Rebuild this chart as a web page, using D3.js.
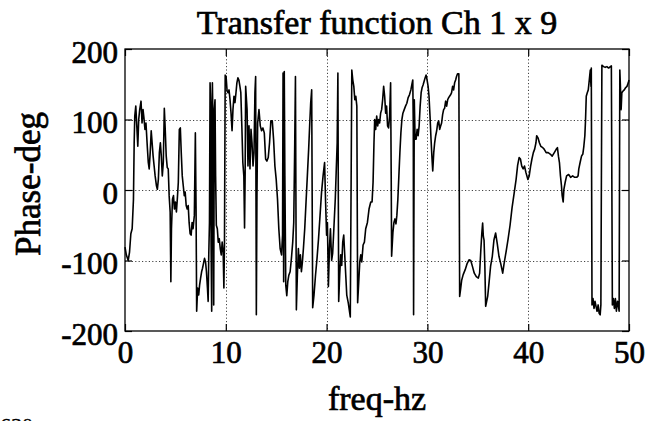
<!DOCTYPE html>
<html>
<head>
<meta charset="utf-8">
<script src="https://cdn.jsdelivr.net/npm/d3@7"></script>
<style>
  html, body { margin: 0; padding: 0; background: #fff; }
  svg text { font-family: "Liberation Serif", "Times New Roman", serif; fill: #000; }
</style>
</head>
<body>
<svg id="chart" width="646" height="421"></svg>
<script>
// Phase of the transfer function, channel 1 x 9 (frequency in Hz, phase in degrees)
const freqHz = [
  0.00, 0.13, 0.32, 0.45, 0.58, 0.71, 0.84, 0.91, 0.97, 1.07, 1.17, 1.27, 1.36, 1.46, 1.59, 1.69,
  1.79, 1.88, 1.98, 2.08, 2.21, 2.31, 2.40, 2.50, 2.60, 2.69, 2.79, 2.89, 2.99, 3.12, 3.21, 3.31,
  3.41, 3.51, 3.60, 3.70, 3.80, 3.90, 3.99, 4.09, 4.19, 4.29, 4.38, 4.48, 4.55, 4.61, 4.71, 4.81,
  4.90, 5.00, 5.10, 5.19, 5.29, 5.39, 5.49, 5.58, 5.68, 5.78, 5.88, 5.97, 6.07, 6.17, 6.27, 6.36,
  6.46, 6.56, 6.66, 6.75, 6.88, 6.98, 7.05, 7.11, 7.21, 7.31, 7.40, 7.50, 7.60, 7.69, 7.79, 7.89,
  7.99, 8.08, 8.18, 8.25, 8.31, 8.38, 8.44, 8.51, 8.54, 8.60, 8.67, 8.73, 8.80, 8.86, 8.93, 8.99,
  9.06, 9.16, 9.25, 9.35, 9.45, 9.55, 9.64, 9.74, 9.81, 9.87, 9.94, 10.03, 10.13, 10.23, 10.32, 10.42,
  10.52, 10.62, 10.71, 10.81, 10.91, 11.01, 11.10, 11.20, 11.30, 11.40, 11.49, 11.59, 11.69, 11.79, 11.86, 11.92,
  11.97, 12.11, 12.20, 12.30, 12.40, 12.50, 12.60, 12.70, 12.80, 12.89, 12.96, 13.03, 13.09, 13.16, 13.29, 13.42,
  13.55, 13.68, 13.82, 13.95, 14.08, 14.21, 14.34, 14.47, 14.61, 14.74, 14.87, 15.00, 15.13, 15.26, 15.39, 15.53,
  15.63, 15.68, 15.74, 15.80, 15.86, 15.95, 16.05, 16.15, 16.25, 16.38, 16.51, 16.64, 16.74, 16.84, 16.91, 17.00,
  17.10, 17.20, 17.30, 17.40, 17.50, 17.60, 17.70, 17.83, 17.96, 18.09, 18.22, 18.33, 18.42, 18.52, 18.62, 18.75,
  18.90, 19.05, 19.20, 19.35, 19.50, 19.65, 19.80, 19.90, 20.00, 20.08, 20.18, 20.28, 20.38, 20.50, 20.60, 20.72,
  20.86, 20.95, 21.05, 21.12, 21.20, 21.30, 21.40, 21.50, 21.60, 21.70, 21.80, 21.90, 22.00, 22.15, 22.35, 22.50,
  22.60, 22.70, 22.80, 22.90, 23.00, 23.08, 23.19, 23.29, 23.39, 23.49, 23.62, 23.75, 23.88, 24.05, 24.21, 24.38,
  24.51, 24.61, 24.70, 24.77, 24.87, 24.97, 25.07, 25.16, 25.26, 25.36, 25.46, 25.56, 25.66, 25.76, 25.86, 25.95,
  26.05, 26.15, 26.25, 26.35, 26.41, 26.45, 26.58, 26.68, 26.78, 26.88, 26.97, 27.07, 27.17, 27.27, 27.37, 27.47,
  27.57, 27.70, 27.83, 27.96, 28.09, 28.22, 28.36, 28.49, 28.55, 28.60, 28.63, 28.70, 28.78, 28.88, 28.98, 29.08,
  29.18, 29.28, 29.38, 29.47, 29.57, 29.67, 29.77, 29.87, 29.97, 30.07, 30.16, 30.26, 30.36, 30.46, 30.53, 30.63,
  30.72, 30.82, 30.92, 31.02, 31.12, 31.22, 31.32, 31.41, 31.51, 31.61, 31.71, 31.81, 31.91, 32.01, 32.11, 32.20,
  32.30, 32.40, 32.50, 32.60, 32.70, 32.80, 32.89, 32.99, 33.12, 33.20, 33.30, 33.40, 33.55, 33.75, 33.95, 34.13,
  34.30, 34.46, 34.65, 34.85, 35.05, 35.18, 35.30, 35.40, 35.48, 35.55, 35.62, 35.70, 35.78, 35.85, 35.98, 36.11,
  36.27, 36.44, 36.60, 36.77, 36.93, 37.10, 37.27, 37.47, 37.60, 37.80, 38.00, 38.20, 38.40, 38.60, 38.80, 38.95,
  39.10, 39.23, 39.36, 39.50, 39.63, 39.77, 39.97, 40.10, 40.24, 40.37, 40.51, 40.64, 40.77, 40.84, 40.97, 41.11,
  41.25, 41.45, 41.58, 41.78, 41.98, 42.18, 42.38, 42.59, 42.79, 42.90, 43.00, 43.10, 43.20, 43.30, 43.37, 43.47,
  43.54, 43.67, 43.81, 44.01, 44.21, 44.41, 44.61, 44.81, 44.95, 45.02, 45.15, 45.29, 45.42, 45.52, 45.62, 45.69,
  45.76, 45.86, 45.96, 46.06, 46.16, 46.23, 46.26, 46.33, 46.43, 46.53, 46.63, 46.73, 46.83, 46.94, 47.04, 47.14,
  47.21, 47.31, 47.47, 47.64, 47.81, 47.98, 48.15, 48.25, 48.35, 48.45, 48.55, 48.65, 48.75, 48.86, 48.96, 49.02,
  49.09, 49.16, 49.22, 49.29, 49.39, 49.53, 49.66, 49.80, 49.93, 50.00
];
const phaseDeg = [
  -81, -92, -100, -88, -62, -55, -13, 67, 105, 119, 91, 62, 100, 114, 126, 95,
  114, 102, 86, 95, 62, 39, 30, 53, 84, 67, 48, 34, 20, 6, 1, 15,
  53, 67, 48, 20, 39, 116, 86, 48, 32, 30, -8, -31, -130, -55, -13, -8,
  -27, -17, -31, -13, 11, 86, 88, 53, 20, 6, -8, -3, -22, -27, -22, -46,
  -62, -64, -46, -55, -36, 81, -27, -172, -139, -149, -135, -125, -116, -111, -104, -97,
  -102, -116, -139, -158, -92, -46, 152, 123, -74, -172, 152, 91, -163, 114, 128, 20,
  -50, -55, -74, -69, -83, -92, -74, -88, -139, -74, 163, 161, 140, 138, 142, 128,
  109, 84, 114, 133, 124, 138, 152, 159, 156, 147, 138, 91, 39, 20, -54, 25,
  147, 114, 34, 91, 30, 86, 67, 34, 53, 138, 161, -177, -8, 95, 114, 91,
  84, 88, 81, 44, 41, 46, 67, 98, 98, 72, 34, 15, -13, -55, -83, -92,
  -64, 166, -130, 168, 20, -135, -150, -130, -121, -116, -97, -74, -46, 67, 161, -170,
  -121, -83, -111, -92, -116, -102, -83, -55, -17, 20, 58, 95, 123, 142, -167, -149,
  -121, -97, -69, -36, -3, 20, 39, -17, -64, -46, -137, -83, -55, -100, -90, -55,
  -13, 25, 67, 166, -158, -121, -92, -107, -74, -64, -92, -121, -149, -160, -180, 170,
  156, 147, 128, 133, 119, -160, -130, -102, -92, -102, -78, -74, -55, -46, -27, -17,
  -17, 11, 67, 100, 86, 105, 91, 100, 95, 109, 114, 128, 147, 133, 109, 119,
  91, 88, 105, 152, 20, -94, -60, -46, -41, -48, -36, -13, 20, 53, 81, 100,
  109, 114, 119, 123, 131, 135, 142, 152, 156, 91, -177, 128, 72, 72, 86, 77,
  91, 119, 138, 145, 149, 154, 159, 163, 156, 147, 133, 105, 72, 44, 27, 53,
  67, 77, 84, 95, 98, 86, 91, 95, 107, 114, 116, 126, 119, 128, 131, 133,
  135, 138, 147, 142, 152, 156, 161, 165, 165, -151, -140, -128, -120, -113, -104, -99,
  -100, -108, -118, -123, -125, -118, -85, -61, -47, -66, -71, -108, -165, -160, -151, -132,
  -108, -94, -71, -61, -76, -94, -104, -118, -105, -88, -70, -50, -25, -5, 15, 35,
  46, 44, 34, 30, 34, 25, 15, 20, 34, 44, 53, 58, 67, 77, 74, 67,
  62, 60, 58, 53, 53, 51, 48, 53, 58, 60, 48, 39, 20, 6, -8, -17,
  1, 11, 20, 22, 18, 20, 18, 18, 20, 30, 39, 48, 51, 62, 77, 100,
  133, 138, 142, 156, 170, 147, 173, -163, -154, -168, -158, -165, -172, -163, -175, -177,
  -163, 177, 175, 174, 175, 173, 175, 176, -163, -154, -168, -154, -172, -158, -165, -172,
  170, 142, 114, 138, 140, 142, 145, 147, 152, 156
];

const xTicks = [0, 10, 20, 30, 40, 50];
const yTicks = [-200, -100, 0, 100, 200];
const gridX = [10, 20, 30, 40];
const gridY = [-100, 0, 100];
const titleText = "Transfer function Ch 1 x 9";
const xLabel = "freq-hz";
const yLabel = "Phase-deg";
const cornerText = "630";

const svg = d3.select("#chart");
svg.append("rect").attr("width", 646).attr("height", 421).attr("fill", "#fff");

const plotL = 125, plotR = 629, plotT = 49, plotB = 331;
const x = d3.scaleLinear().domain([0, 50]).range([plotL, plotR]);
const y = d3.scaleLinear().domain([-200, 200]).range([plotB, plotT]);
const textStroke = 0.7;

// dotted grid
const grid = svg.append("g").attr("stroke", "#444").attr("stroke-width", 1)
  .attr("stroke-dasharray", "1.2,2.2").attr("fill", "none");
grid.selectAll("line.gx").data(gridX).join("line").attr("class", "gx")
  .attr("x1", d => Math.round(x(d)) + 0.5).attr("x2", d => Math.round(x(d)) + 0.5)
  .attr("y1", plotT).attr("y2", plotB);
grid.selectAll("line.gy").data(gridY).join("line").attr("class", "gy")
  .attr("y1", d => Math.round(y(d)) + 0.5).attr("y2", d => Math.round(y(d)) + 0.5)
  .attr("x1", plotL).attr("x2", plotR);

// phase trace
const pts = freqHz.map((f, i) => [f, phaseDeg[i]]);
svg.append("path")
  .datum(pts)
  .attr("fill", "none")
  .attr("stroke", "#000")
  .attr("stroke-width", 1.6)
  .attr("stroke-linejoin", "round")
  .attr("d", d3.line().x(d => x(d[0])).y(d => y(d[1])));

// axes with inward ticks on all four sides
const fontTick = 31;
const gB = svg.append("g").attr("transform", `translate(0,${plotB})`)
  .call(d3.axisBottom(x).tickValues(xTicks).tickSizeInner(-7).tickSizeOuter(0).tickPadding(10).tickFormat(d3.format("d")));
const gL = svg.append("g").attr("transform", `translate(${plotL},0)`)
  .call(d3.axisLeft(y).tickValues(yTicks).tickSizeInner(-7).tickSizeOuter(0).tickPadding(7).tickFormat(d => d < 0 ? "-" + Math.abs(d) : String(d)));
const gT = svg.append("g").attr("transform", `translate(0,${plotT})`)
  .call(d3.axisTop(x).tickValues(xTicks).tickSizeInner(-7).tickSizeOuter(0).tickFormat(""));
const gR = svg.append("g").attr("transform", `translate(${plotR},0)`)
  .call(d3.axisRight(y).tickValues(yTicks).tickSizeInner(-7).tickSizeOuter(0).tickFormat(""));

[gB, gL, gT, gR].forEach(g => {
  g.select(".domain").remove();
  g.selectAll(".tick line").attr("stroke", "#000").attr("stroke-width", 1.2);
  g.selectAll("text").attr("font-family", null).attr("font-size", fontTick)
    .attr("fill", "#000").attr("stroke", "#000").attr("stroke-width", textStroke);
});
gL.selectAll("text").attr("dy", "0.42em");

// frame
svg.append("rect")
  .attr("x", plotL).attr("y", plotT)
  .attr("width", plotR - plotL).attr("height", plotB - plotT)
  .attr("fill", "none").attr("stroke", "#000").attr("stroke-width", 1.3);

// titles
svg.append("text").attr("x", (plotL + plotR) / 2).attr("y", 34)
  .attr("text-anchor", "middle").attr("font-size", 34)
  .attr("stroke", "#000").attr("stroke-width", textStroke)
  .text(titleText);
svg.append("text").attr("x", (plotL + plotR) / 2).attr("y", 410)
  .attr("text-anchor", "middle").attr("font-size", 34)
  .attr("stroke", "#000").attr("stroke-width", textStroke)
  .text(xLabel);
svg.append("text").attr("transform", `translate(40,184) rotate(-90)`)
  .attr("text-anchor", "middle").attr("font-size", 35)
  .attr("stroke", "#000").attr("stroke-width", textStroke)
  .text(yLabel);
svg.append("text").attr("x", 0).attr("y", 433)
  .attr("font-size", 22).attr("stroke", "#000").attr("stroke-width", 0.3)
  .text(cornerText);
</script>
</body>
</html>
